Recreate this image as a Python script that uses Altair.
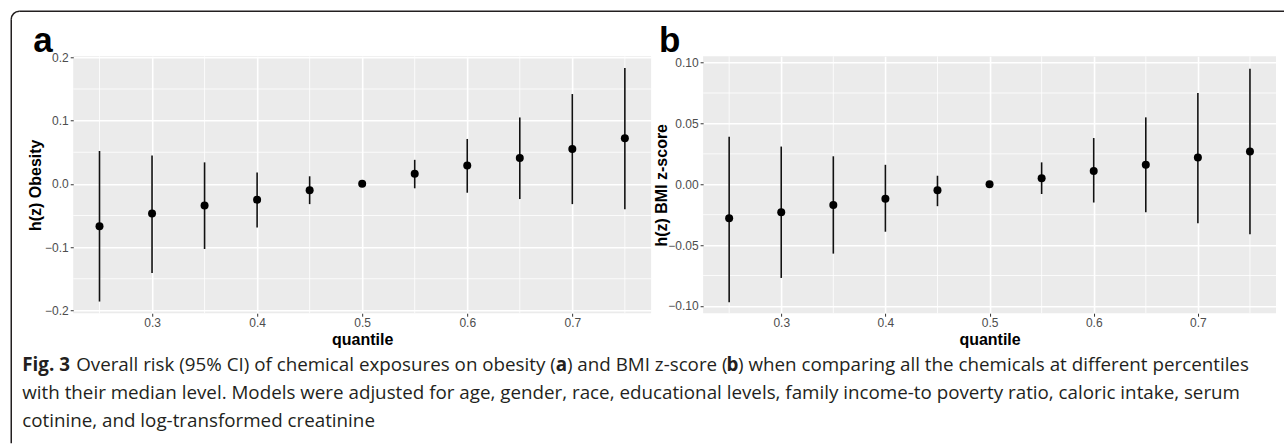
import math
import altair as alt
import pandas as pd

# ---------------- data ----------------
quantiles = [0.25, 0.30, 0.35, 0.40, 0.45, 0.50, 0.55, 0.60, 0.65, 0.70, 0.75]

obesity_est = [-0.067, -0.047, -0.034, -0.025, -0.010, 0.000, 0.016, 0.029, 0.041, 0.055, 0.072]
obesity_lo = [-0.186, -0.141, -0.103, -0.069, -0.032, 0.000, -0.007, -0.014, -0.024, -0.032, -0.040]
obesity_hi = [0.052, 0.045, 0.034, 0.018, 0.012, 0.000, 0.038, 0.071, 0.105, 0.142, 0.183]

bmi_est = [-0.028, -0.023, -0.017, -0.012, -0.005, 0.000, 0.005, 0.011, 0.016, 0.022, 0.027]
bmi_lo = [-0.097, -0.077, -0.057, -0.039, -0.018, 0.000, -0.008, -0.015, -0.023, -0.032, -0.041]
bmi_hi = [0.039, 0.031, 0.023, 0.016, 0.007, 0.000, 0.018, 0.038, 0.055, 0.075, 0.095]

x_ticks = [0.3, 0.4, 0.5, 0.6, 0.7]
x_minor = [0.25, 0.35, 0.45, 0.55, 0.65, 0.75]
a_y_ticks = [-0.2, -0.1, 0.0, 0.1, 0.2]
a_y_minor = [-0.15, -0.05, 0.05, 0.15]
b_y_ticks = [-0.10, -0.05, 0.0, 0.05, 0.10]
b_y_minor = [-0.075, -0.025, 0.025, 0.075]

panel_labels = ["a", "b"]
y_titles = ["h(z) Obesity", "h(z) BMI z-score"]
x_title = "quantile"

caption_line1 = ["Fig. 3", "Overall risk (95% CI) of chemical exposures on obesity (", "a",
                 ") and BMI z-score (", "b",
                 ") when comparing all the chemicals at different percentiles"]
caption_line1_bold = [True, False, True, False, True, False]
caption_other_lines = [
    "with their median level. Models were adjusted for age, gender, race, educational levels, family income-to poverty ratio, caloric intake, serum",
    "cotinine, and log-transformed creatinine",
]

# ---------------- style ----------------
AX_FONT = "Liberation Sans"
CAP_FONT = "Open Sans"
CAP_SIZE = 18.8
CAP_COLOR = "#231F20"
BORDER = "#231F20"
PLOT_H = 257


def one(value):
    return pd.DataFrame({"t": [value]})


def make_panel(est, lo, hi, ydom, yticks, yminor, yfmt, ytitle, extent, tpad):
    df = pd.DataFrame({"quantile": quantiles, "est": est, "lo": lo, "hi": hi})
    xs = alt.Scale(domain=[0.225, 0.775], nice=False, zero=False)
    ys = alt.Scale(domain=ydom, nice=False, zero=False)
    xaxis = alt.Axis(values=x_ticks, format=".1f", title=x_title, grid=True,
                     labelPadding=1, titleY=31, titleBaseline="alphabetic")
    yaxis = alt.Axis(values=yticks, format=yfmt, title=ytitle, grid=True,
                     minExtent=extent, maxExtent=extent, titlePadding=tpad)
    vminor = alt.Chart(pd.DataFrame({"v": x_minor})).mark_rule(
        color="white", strokeWidth=0.8).encode(x=alt.X("v:Q", scale=xs, axis=xaxis))
    hminor = alt.Chart(pd.DataFrame({"h": yminor})).mark_rule(
        color="white", strokeWidth=0.8).encode(y=alt.Y("h:Q", scale=ys, axis=yaxis))
    bars = alt.Chart(df).mark_rule(color="#111111", strokeWidth=1.6).encode(
        x=alt.X("quantile:Q", scale=xs, axis=xaxis),
        y=alt.Y("lo:Q", scale=ys, axis=yaxis),
        y2="hi:Q",
    )
    pts = alt.Chart(df).mark_circle(color="black", size=64, opacity=1).encode(
        x=alt.X("quantile:Q", scale=xs, axis=xaxis),
        y=alt.Y("est:Q", scale=ys, axis=yaxis),
    )
    return [vminor, hminor, bars, pts]


def label_layer(txt, dx):
    return alt.Chart(one(txt)).mark_text(
        font=AX_FONT, fontSize=35, fontWeight="bold", align="left",
        baseline="alphabetic", color="black").encode(
        x=alt.value(dx), y=alt.value(-4), text="t:N")


# panel a (plot area origin is at page x=73, y=56)
layers_a = make_panel(obesity_est, obesity_lo, obesity_hi, [-0.2045, 0.2017],
                      a_y_ticks, a_y_minor, ".1f", y_titles[0], 29, 1)
layers_a.append(label_layer(panel_labels[0], -40))

# caption (relative to panel a plot origin)
seg_x = [-51, 2.9, 482.7, 493.8, 653.4, 664.9]
for txt, bold, xx in zip(caption_line1, caption_line1_bold, seg_x):
    layers_a.append(alt.Chart(one(txt)).mark_text(
        font=CAP_FONT, fontSize=CAP_SIZE, fontWeight="bold" if bold else "normal",
        align="left", baseline="alphabetic", color=CAP_COLOR).encode(
        x=alt.value(xx), y=alt.value(315), text="t:N"))
for i, line in enumerate(caption_other_lines):
    layers_a.append(alt.Chart(one(line)).mark_text(
        font=CAP_FONT, fontSize=CAP_SIZE, align="left", baseline="alphabetic",
        color=CAP_COLOR).encode(x=alt.value(-51), y=alt.value(343 + 27.5 * i), text="t:N"))

# frame: top line, left line and rounded top-left corner
layers_a.append(alt.Chart(one(0)).mark_rule(color=BORDER, strokeWidth=1.5).encode(
    x=alt.value(-54), x2=alt.value(1211), y=alt.value(-45)))
layers_a.append(alt.Chart(one(0)).mark_rule(color=BORDER, strokeWidth=1.5).encode(
    x=alt.value(-62), y=alt.value(-37), y2=alt.value(387)))
layers_a.append(alt.Chart(one(0)).mark_arc(
    color=BORDER, theta=3 * math.pi / 2, theta2=2 * math.pi,
    radius=8.75, radius2=7.25).encode(x=alt.value(-54), y=alt.value(-37)))

panel_a = alt.layer(*layers_a).properties(width=578, height=PLOT_H)

layers_b = make_panel(bmi_est, bmi_lo, bmi_hi, [-0.106, 0.1052],
                      b_y_ticks, b_y_minor, ".2f", y_titles[1], 35, -1)
layers_b.append(label_layer(panel_labels[1], -44))
panel_b = alt.layer(*layers_b).properties(width=573, height=PLOT_H)

chart = alt.hconcat(panel_a, panel_b, spacing=52, bounds="flush").properties(
    padding={"left": 10.25, "top": 10.25, "right": 0, "bottom": 0},
    background="white",
).configure_view(
    stroke=None, fill="#EBEBEB"
).configure_axis(
    labelFont=AX_FONT, labelFontSize=12, labelColor="#4D4D4D",
    tickColor="#333333", tickSize=3, tickWidth=1, domain=False,
    gridColor="white", gridWidth=1.6, labelPadding=2, labelOverlap=False,
    titleFont=AX_FONT, titleFontSize=16, titleFontWeight="bold", titleColor="black",
)

chart.save("out.html", embed_options={"renderer": "svg", "actions": False})
